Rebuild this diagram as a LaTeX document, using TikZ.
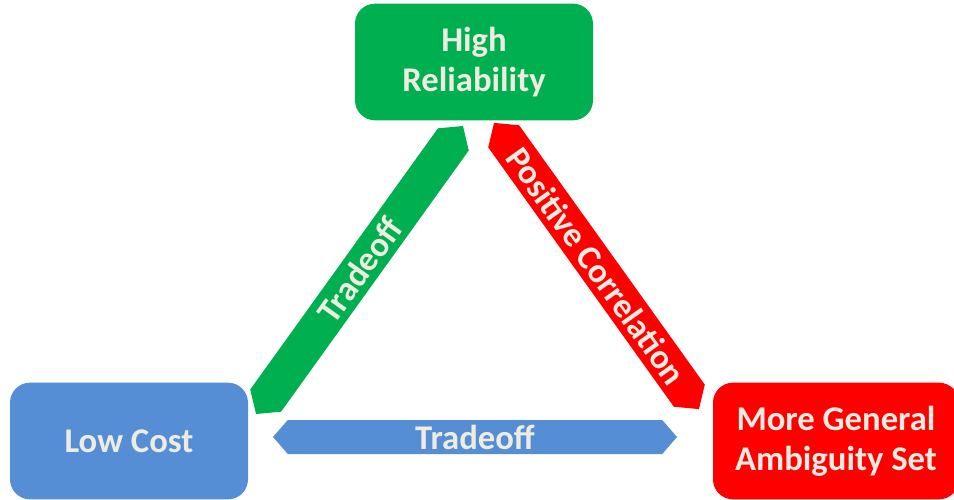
\documentclass[tikz,border=0pt]{standalone}
\usepackage{fontspec}
\setmainfont{Carlito}
\usetikzlibrary{shapes.arrows}
\definecolor{goalgreen}{HTML}{00B050}
\definecolor{goalblue}{HTML}{558ED5}
\definecolor{goalred}{HTML}{FF0000}
\definecolor{labelwhite}{HTML}{EEECE1}
\begin{document}
\begin{tikzpicture}[x=0.75pt,y=-0.75pt,
  labelfont/.style={text=labelwhite, font=\fontsize{26}{30}\selectfont\bfseries},
  goal/.style={labelfont, rounded corners=15pt, align=center, inner sep=0pt,
    minimum width=178.5pt, minimum height=87.5pt},
  relation/.style={labelfont, double arrow, double arrow head extend=0pt,
    double arrow tip angle=98, inner sep=0pt, minimum width=28.5pt}]
\useasboundingbox (0,0) rectangle (954,500);
\clip (0,0) rectangle (954,500);

% the three goals
\node[goal, fill=goalgreen] (reliability) at (474,62) {High\\Reliability};
\node[goal, fill=goalblue] (cost) at (129,441) {Low Cost};
\node[goal, fill=goalred, minimum width=184.5pt] (ambiguity) at (836,441)
  {More General\\Ambiguity Set};

% relations between the goals (arrow length = minimum height)
\node[relation, fill=goalgreen, minimum height=266pt, rotate=54.3]
  (costrel) at (359.5,270) {Tradeoff};
\node[relation, fill=goalred, minimum height=264pt, rotate=-54.4]
  (relamb) at (596.5,266) {Positive Correlation};
\node[relation, fill=goalblue, minimum height=303pt, minimum width=25.5pt]
  (costamb) at (475,437) {Tradeoff};
\end{tikzpicture}
\end{document}
